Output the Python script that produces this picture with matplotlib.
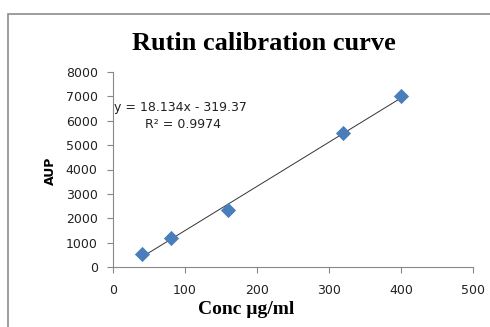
import matplotlib.pyplot as plt
from matplotlib.patches import Rectangle
import numpy as np

conc = [40, 80, 160, 320, 400]
aup = [550, 1170, 2340, 5510, 7000]
slope = 18.134
intercept = -319.37

x_ticks = [0, 100, 200, 300, 400, 500]
y_ticks = [0, 1000, 2000, 3000, 4000, 5000, 6000, 7000, 8000]

fig = plt.figure(figsize=(4.9, 3.27), dpi=100, facecolor='white')

# outer chart frame (right and bottom edges run off the picture)
frame = Rectangle((8/490, -0.05), 1.2, 1 - 14/327 + 0.05, transform=fig.transFigure,
                  fill=False, edgecolor='#8c8c8c', linewidth=1.2, clip_on=False)
fig.patches.append(frame)

ax = fig.add_axes([113/490, 1 - 267/327, (473 - 113)/490, (267 - 72)/327])

ax.scatter(conc, aup, marker='D', s=60, color='#4a7ebb', zorder=3, linewidths=0)
xl = np.array([min(conc), max(conc)])
ax.plot(xl, slope*xl + intercept, color='#333333', linewidth=0.7, zorder=2)

ax.set_xlim(0, 500)
ax.set_ylim(0, 8000)
ax.set_xticks(x_ticks)
ax.set_yticks(y_ticks)

for s in ['top', 'right']:
    ax.spines[s].set_visible(False)
for s in ['left', 'bottom']:
    ax.spines[s].set_color('#888888')
    ax.spines[s].set_linewidth(0.8)
ax.tick_params(direction='out', length=4, color='#888888', width=0.8,
               labelsize=9, labelcolor='#222222')
ax.tick_params(axis='x', pad=8)
ax.tick_params(axis='y', pad=7)

fig.text(264/490, 1 - 43/327, 'Rutin calibration curve', ha='center', va='center',
         family='Liberation Serif', weight='bold', fontsize=19)
fig.text(246/490, 1 - 310/327, 'Conc µg/ml', ha='center', va='center',
         family='Liberation Serif', weight='bold', fontsize=14)
fig.text(50/490, 1 - 171/327, 'AUP', ha='center', va='center', rotation=90,
         family='DejaVu Sans', weight='bold', fontsize=9)

ax.text(2, 6560, 'y = 18.134x - 319.37', fontsize=9, color='#222222',
        va='center', ha='left')
ax.text(44, 5830, 'R² = 0.9974', fontsize=9, color='#222222',
        va='center', ha='left')

fig.savefig('out.png', dpi=100, facecolor='white')
